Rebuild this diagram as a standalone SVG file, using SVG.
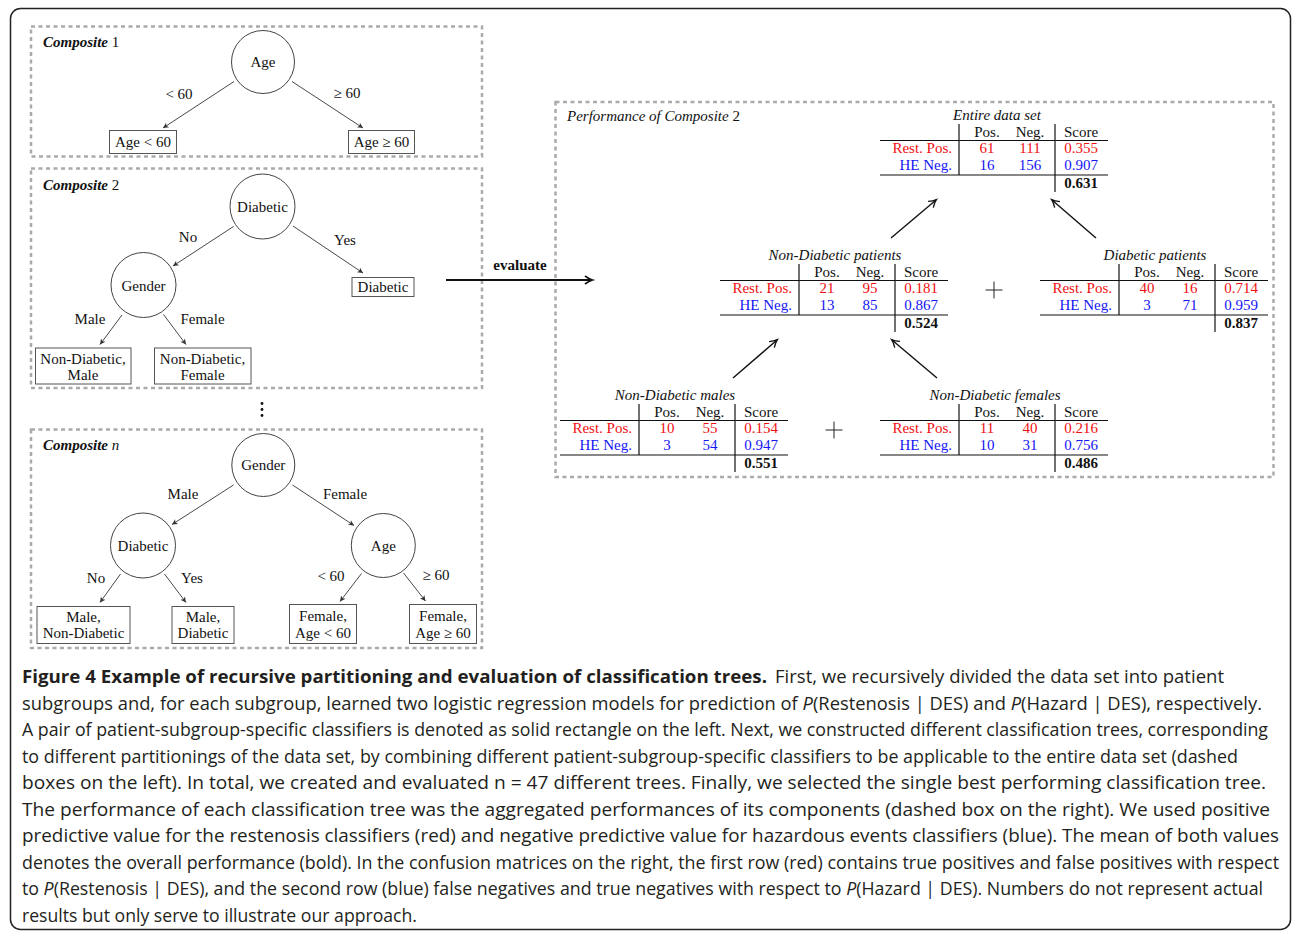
<svg xmlns="http://www.w3.org/2000/svg" width="1292" height="934" viewBox="0 0 1292 934">
<style>
.t{font-family:"Liberation Serif","Times New Roman",serif;font-size:15px;fill:#111}
.c{text-anchor:middle}
.e{text-anchor:end}
.i{font-style:italic}
.b{font-weight:bold}
.r{fill:#f01010}
.u{fill:#1515f5}
.dash{fill:none;stroke:#aaaaaa;stroke-width:2.5;stroke-dasharray:4 3.5}
.node{fill:#fff;stroke:#444;stroke-width:1}
.box{fill:#fff;stroke:#555;stroke-width:1}
.edge{stroke:#333;stroke-width:0.9;fill:none;marker-end:url(#ah)}
.pa{stroke:#111;stroke-width:1.4;fill:none;marker-end:url(#pv)}
.tl{stroke:#111;stroke-width:1.2}
.cap{font-family:"Open Sans","Noto Sans",sans-serif;font-size:17.5px;fill:#231f20}
</style>
<defs>
<marker id="ah" markerWidth="8" markerHeight="8" refX="6" refY="4" orient="auto" markerUnits="userSpaceOnUse"><path d="M0.5,1.2 L6,4 L0.5,6.8 L2,4 z" fill="#333"/></marker>
<marker id="pv" markerWidth="12" markerHeight="12" refX="8" refY="6" orient="auto" markerUnits="userSpaceOnUse"><path d="M1,2 Q5,5 8.5,6 Q5,7 1,10" fill="none" stroke="#111" stroke-width="1.3"/></marker>
<marker id="ev" markerWidth="12" markerHeight="12" refX="8" refY="6" orient="auto" markerUnits="userSpaceOnUse"><path d="M1,2 Q5,5 8.5,6 Q5,7 1,10" fill="none" stroke="#111" stroke-width="1.6"/></marker>
</defs>
<rect x="10.5" y="8.5" width="1280" height="921" rx="10" fill="#fff" stroke="#222" stroke-width="1.5"/>

<!-- Composite 1 -->
<g id="composite1">
<rect class="dash" x="31" y="26.5" width="451" height="130"/>
<text class="t" x="43" y="47"><tspan class="b i">Composite</tspan> 1</text>
</g>
<g id="c1-age"><circle class="node" cx="263" cy="62" r="31.5"/><text class="t c" x="263" y="67">Age</text></g>
<g id="c1-lt60"><rect class="box" x="109.5" y="130.5" width="67" height="23"/><text class="t c" x="143" y="147">Age &lt; 60</text></g>
<g id="c1-ge60"><rect class="box" x="348.5" y="130.5" width="66" height="23"/><text class="t c" x="381.5" y="147">Age ≥ 60</text></g>

<!-- Composite 2 -->
<g id="composite2">
<rect class="dash" x="31" y="168.5" width="451" height="219.5"/>
<text class="t" x="43" y="190"><tspan class="b i">Composite</tspan> 2</text>
</g>
<g id="c2-diabetic"><circle class="node" cx="262.5" cy="206.5" r="32.5"/><text class="t c" x="262.5" y="211.5">Diabetic</text></g>
<g id="c2-gender"><circle class="node" cx="143.5" cy="285" r="32.5"/><text class="t c" x="143.5" y="291">Gender</text></g>
<g id="c2-diabox"><rect class="box" x="352" y="277.5" width="62" height="19"/><text class="t c" x="383" y="292">Diabetic</text></g>
<g id="c2-ndm"><rect class="box" x="35.5" y="348" width="95.5" height="36"/><text class="t c" x="83" y="363.5">Non-Diabetic,</text><text class="t c" x="83" y="380">Male</text></g>
<g id="c2-ndf"><rect class="box" x="154.5" y="348" width="96.5" height="36"/><text class="t c" x="202.5" y="363.5">Non-Diabetic,</text><text class="t c" x="202.5" y="380">Female</text></g>

<g id="dots" fill="#111"><circle cx="262" cy="403.5" r="1.4"/><circle cx="262" cy="409.5" r="1.4"/><circle cx="262" cy="415.5" r="1.4"/></g>

<!-- Composite n -->
<g id="compositeN">
<rect class="dash" x="31" y="429.5" width="451" height="218.5"/>
<text class="t" x="43" y="450"><tspan class="b i">Composite</tspan> <tspan class="i">n</tspan></text>
</g>
<g id="cn-gender"><circle class="node" cx="263.3" cy="465" r="31.5"/><text class="t c" x="263.3" y="470">Gender</text></g>
<g id="cn-diabetic"><circle class="node" cx="143" cy="545.5" r="32.5"/><text class="t c" x="143" y="550.5">Diabetic</text></g>
<g id="cn-age"><circle class="node" cx="383.3" cy="545.5" r="32"/><text class="t c" x="383.3" y="550.5">Age</text></g>
<g id="cn-mnd"><rect class="box" x="37" y="606.5" width="93" height="37"/><text class="t c" x="83.5" y="621.5">Male,</text><text class="t c" x="83.5" y="638">Non-Diabetic</text></g>
<g id="cn-md"><rect class="box" x="172" y="606.5" width="62" height="37"/><text class="t c" x="203" y="621.5">Male,</text><text class="t c" x="203" y="638">Diabetic</text></g>
<g id="cn-flt"><rect class="box" x="289.5" y="604.5" width="67" height="39"/><text class="t c" x="323" y="621">Female,</text><text class="t c" x="323" y="638">Age &lt; 60</text></g>
<g id="cn-fge"><rect class="box" x="409.5" y="604.5" width="67" height="39"/><text class="t c" x="443" y="621">Female,</text><text class="t c" x="443" y="638">Age ≥ 60</text></g>

<!-- Performance box -->
<g id="performance">
<rect class="dash" x="555.5" y="102" width="718" height="375"/>
<text class="t" x="567" y="121"><tspan class="i">Performance of Composite</tspan> 2</text>
</g>

<g id="tbl-entire" transform="translate(880,120)">
<text class="t c i" x="117" y="0">Entire data set</text>
<text class="t c" x="107" y="16.5">Pos.</text><text class="t c" x="150" y="16.5">Neg.</text><text class="t c" x="201" y="16.5">Score</text>
<text class="t e r" x="72" y="33">Rest. Pos.</text><text class="t c r" x="107" y="33">61</text><text class="t c r" x="150" y="33">111</text><text class="t c r" x="201" y="33">0.355</text>
<text class="t e u" x="72" y="50">HE Neg.</text><text class="t c u" x="107" y="50">16</text><text class="t c u" x="150" y="50">156</text><text class="t c u" x="201" y="50">0.907</text>
<text class="t c b" x="201" y="67.5">0.631</text>
<line class="tl" x1="0" y1="20.5" x2="228" y2="20.5"/><line class="tl" x1="0" y1="55" x2="228" y2="55"/>
<line class="tl" x1="79" y1="4" x2="79" y2="55"/><line class="tl" x1="175" y1="4" x2="175" y2="72"/>
</g>

<g id="tbl-nondiabetic" transform="translate(720,260)">
<text class="t c i" x="115" y="0">Non-Diabetic patients</text>
<text class="t c" x="107" y="16.5">Pos.</text><text class="t c" x="150" y="16.5">Neg.</text><text class="t c" x="201" y="16.5">Score</text>
<text class="t e r" x="72" y="33">Rest. Pos.</text><text class="t c r" x="107" y="33">21</text><text class="t c r" x="150" y="33">95</text><text class="t c r" x="201" y="33">0.181</text>
<text class="t e u" x="72" y="50">HE Neg.</text><text class="t c u" x="107" y="50">13</text><text class="t c u" x="150" y="50">85</text><text class="t c u" x="201" y="50">0.867</text>
<text class="t c b" x="201" y="67.5">0.524</text>
<line class="tl" x1="0" y1="20.5" x2="228" y2="20.5"/><line class="tl" x1="0" y1="55" x2="228" y2="55"/>
<line class="tl" x1="79" y1="4" x2="79" y2="55"/><line class="tl" x1="175" y1="4" x2="175" y2="72"/>
</g>

<g id="tbl-diabetic" transform="translate(1040,260)">
<text class="t c i" x="115" y="0">Diabetic patients</text>
<text class="t c" x="107" y="16.5">Pos.</text><text class="t c" x="150" y="16.5">Neg.</text><text class="t c" x="201" y="16.5">Score</text>
<text class="t e r" x="72" y="33">Rest. Pos.</text><text class="t c r" x="107" y="33">40</text><text class="t c r" x="150" y="33">16</text><text class="t c r" x="201" y="33">0.714</text>
<text class="t e u" x="72" y="50">HE Neg.</text><text class="t c u" x="107" y="50">3</text><text class="t c u" x="150" y="50">71</text><text class="t c u" x="201" y="50">0.959</text>
<text class="t c b" x="201" y="67.5">0.837</text>
<line class="tl" x1="0" y1="20.5" x2="228" y2="20.5"/><line class="tl" x1="0" y1="55" x2="228" y2="55"/>
<line class="tl" x1="79" y1="4" x2="79" y2="55"/><line class="tl" x1="175" y1="4" x2="175" y2="72"/>
</g>

<g id="tbl-ndmales" transform="translate(560,400)">
<text class="t c i" x="115" y="0">Non-Diabetic males</text>
<text class="t c" x="107" y="16.5">Pos.</text><text class="t c" x="150" y="16.5">Neg.</text><text class="t c" x="201" y="16.5">Score</text>
<text class="t e r" x="72" y="33">Rest. Pos.</text><text class="t c r" x="107" y="33">10</text><text class="t c r" x="150" y="33">55</text><text class="t c r" x="201" y="33">0.154</text>
<text class="t e u" x="72" y="50">HE Neg.</text><text class="t c u" x="107" y="50">3</text><text class="t c u" x="150" y="50">54</text><text class="t c u" x="201" y="50">0.947</text>
<text class="t c b" x="201" y="67.5">0.551</text>
<line class="tl" x1="0" y1="20.5" x2="228" y2="20.5"/><line class="tl" x1="0" y1="55" x2="228" y2="55"/>
<line class="tl" x1="79" y1="4" x2="79" y2="55"/><line class="tl" x1="175" y1="4" x2="175" y2="72"/>
</g>

<g id="tbl-ndfemales" transform="translate(880,400)">
<text class="t c i" x="115" y="0">Non-Diabetic females</text>
<text class="t c" x="107" y="16.5">Pos.</text><text class="t c" x="150" y="16.5">Neg.</text><text class="t c" x="201" y="16.5">Score</text>
<text class="t e r" x="72" y="33">Rest. Pos.</text><text class="t c r" x="107" y="33">11</text><text class="t c r" x="150" y="33">40</text><text class="t c r" x="201" y="33">0.216</text>
<text class="t e u" x="72" y="50">HE Neg.</text><text class="t c u" x="107" y="50">10</text><text class="t c u" x="150" y="50">31</text><text class="t c u" x="201" y="50">0.756</text>
<text class="t c b" x="201" y="67.5">0.486</text>
<line class="tl" x1="0" y1="20.5" x2="228" y2="20.5"/><line class="tl" x1="0" y1="55" x2="228" y2="55"/>
<line class="tl" x1="79" y1="4" x2="79" y2="55"/><line class="tl" x1="175" y1="4" x2="175" y2="72"/>
</g>

<g id="plus1" stroke="#222" stroke-width="1"><line x1="985.5" y1="290" x2="1002.5" y2="290"/><line x1="994" y1="281.5" x2="994" y2="298.5"/></g>
<g id="plus2" stroke="#222" stroke-width="1"><line x1="825.5" y1="430" x2="842.5" y2="430"/><line x1="834" y1="421.5" x2="834" y2="438.5"/></g>

<g id="connectors">
<line class="edge" x1="234" y1="81.5" x2="163" y2="128"/>
<line class="edge" x1="292" y1="81.5" x2="363" y2="128"/>
<text class="t c" x="179" y="99">&lt; 60</text>
<text class="t c" x="347" y="98">≥ 60</text>

<line class="edge" x1="233.5" y1="226.5" x2="173" y2="266"/>
<line class="edge" x1="293" y1="226" x2="363" y2="273"/>
<line class="edge" x1="122" y1="315" x2="100" y2="344.5"/>
<line class="edge" x1="163.5" y1="314.5" x2="186" y2="344.5"/>
<text class="t c" x="188" y="242">No</text>
<text class="t c" x="345" y="245">Yes</text>
<text class="t c" x="90" y="324">Male</text>
<text class="t c" x="202.5" y="324">Female</text>

<line class="edge" x1="233.5" y1="485" x2="172" y2="524.5"/>
<line class="edge" x1="292.5" y1="485" x2="354" y2="525.5"/>
<line class="edge" x1="120.5" y1="574" x2="100" y2="602.5"/>
<line class="edge" x1="164.5" y1="574" x2="186" y2="602.5"/>
<line class="edge" x1="361.5" y1="573.5" x2="340" y2="601.5"/>
<line class="edge" x1="403.5" y1="573" x2="425.5" y2="601"/>
<text class="t c" x="183" y="499">Male</text>
<text class="t c" x="345" y="499">Female</text>
<text class="t c" x="96" y="583">No</text>
<text class="t c" x="192" y="583">Yes</text>
<text class="t c" x="331" y="581">&lt; 60</text>
<text class="t c" x="436" y="580">≥ 60</text>

<line x1="446" y1="280" x2="592" y2="280" stroke="#111" stroke-width="2" marker-end="url(#ev)"/>
<text class="t c b" x="520" y="270">evaluate</text>

<line class="pa" x1="891" y1="238" x2="936" y2="200"/>
<line class="pa" x1="1096" y1="238" x2="1052" y2="200"/>
<line class="pa" x1="733" y1="378" x2="777" y2="340"/>
<line class="pa" x1="937" y1="378" x2="892" y2="340"/>
</g>

<g id="caption" class="cap">
<text x="22" y="683" font-weight="bold" textLength="745" lengthAdjust="spacingAndGlyphs">Figure 4 Example of recursive partitioning and evaluation of classification trees.</text>
<text x="775" y="683" textLength="449" lengthAdjust="spacingAndGlyphs">First, we recursively divided the data set into patient</text>
<text x="22" y="709.5" textLength="1240" lengthAdjust="spacingAndGlyphs">subgroups and, for each subgroup, learned two logistic regression models for prediction of <tspan font-style="italic">P</tspan>(Restenosis | DES) and <tspan font-style="italic">P</tspan>(Hazard | DES), respectively.</text>
<text x="22" y="736" textLength="1246" lengthAdjust="spacingAndGlyphs">A pair of patient-subgroup-specific classifiers is denoted as solid rectangle on the left. Next, we constructed different classification trees, corresponding</text>
<text x="22" y="762.5" textLength="1216" lengthAdjust="spacingAndGlyphs">to different partitionings of the data set, by combining different patient-subgroup-specific classifiers to be applicable to the entire data set (dashed</text>
<text x="22" y="789" textLength="1244" lengthAdjust="spacingAndGlyphs">boxes on the left). In total, we created and evaluated n = 47 different trees. Finally, we selected the single best performing classification tree.</text>
<text x="22" y="815.5" textLength="1248" lengthAdjust="spacingAndGlyphs">The performance of each classification tree was the aggregated performances of its components (dashed box on the right). We used positive</text>
<text x="22" y="842" textLength="1257" lengthAdjust="spacingAndGlyphs">predictive value for the restenosis classifiers (red) and negative predictive value for hazardous events classifiers (blue). The mean of both values</text>
<text x="22" y="868.5" textLength="1257" lengthAdjust="spacingAndGlyphs">denotes the overall performance (bold). In the confusion matrices on the right, the first row (red) contains true positives and false positives with respect</text>
<text x="22" y="895" textLength="1241" lengthAdjust="spacingAndGlyphs">to <tspan font-style="italic">P</tspan>(Restenosis | DES), and the second row (blue) false negatives and true negatives with respect to <tspan font-style="italic">P</tspan>(Hazard | DES). Numbers do not represent actual</text>
<text x="22" y="921.5" textLength="395" lengthAdjust="spacingAndGlyphs">results but only serve to illustrate our approach.</text>
</g>
</svg>
